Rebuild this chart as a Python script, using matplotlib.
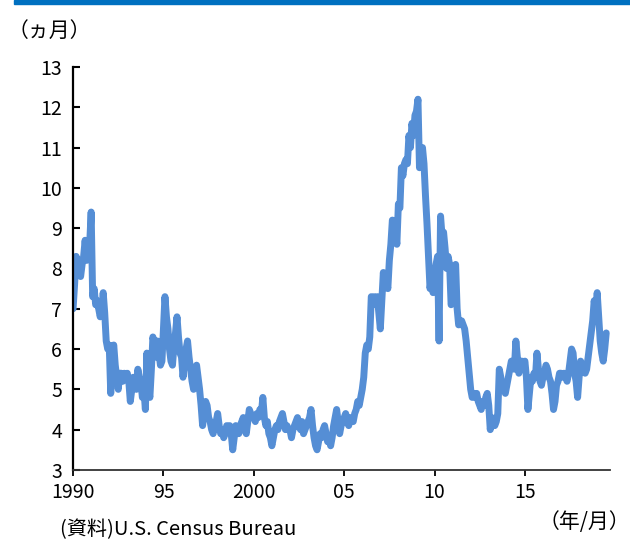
import numpy as np
import matplotlib
matplotlib.use("Agg")
import matplotlib.pyplot as plt
from matplotlib.patches import Rectangle

plt.rcParams['font.family'] = ['Noto Sans CJK JP', 'DejaVu Sans']

# 新築住宅在庫（販売月数）月次, 1990/1 - 2019/7
supply = {
    1990: [7.0, 7.6, 8.3, 8.2, 8.0, 7.8, 8.1, 8.3, 8.7, 8.2, 8.4, 8.6],
    1991: [9.4, 7.3, 7.5, 7.1, 7.2, 7.0, 6.8, 7.0, 7.4, 6.9, 6.2, 6.0],
    1992: [6.1, 4.9, 5.9, 6.1, 5.6, 5.3, 5.0, 5.4, 5.4, 5.2, 5.4, 5.3],
    1993: [5.4, 5.2, 4.7, 5.0, 5.3, 5.2, 5.0, 5.5, 5.3, 5.2, 4.8, 5.0],
    1994: [4.5, 5.9, 5.0, 4.8, 5.5, 6.3, 6.1, 5.8, 6.2, 5.9, 5.6, 5.7],
    1995: [6.5, 7.3, 6.8, 6.5, 6.0, 5.7, 5.6, 6.1, 6.4, 6.8, 6.3, 5.9],
    1996: [5.8, 5.3, 5.7, 6.0, 6.2, 5.8, 5.5, 5.2, 5.0, 5.4, 5.6, 5.3],
    1997: [5.0, 4.6, 4.1, 4.4, 4.7, 4.6, 4.3, 4.2, 4.0, 3.9, 4.1, 4.2],
    1998: [4.4, 4.1, 3.9, 4.0, 3.8, 3.9, 4.1, 4.0, 4.1, 3.9, 3.5, 3.8],
    1999: [4.1, 4.0, 3.9, 4.1, 4.2, 4.3, 4.0, 3.9, 4.2, 4.5, 4.4, 4.3],
    2000: [4.3, 4.2, 4.4, 4.3, 4.5, 4.4, 4.8, 4.3, 4.1, 4.2, 3.9, 3.8],
    2001: [3.6, 3.8, 4.0, 4.1, 4.0, 4.2, 4.3, 4.4, 4.2, 4.0, 4.1, 4.0],
    2002: [4.0, 3.8, 4.0, 4.1, 4.2, 4.3, 4.1, 4.0, 4.2, 3.9, 4.0, 4.1],
    2003: [4.2, 4.3, 4.5, 4.1, 3.8, 3.6, 3.5, 3.7, 3.9, 3.8, 4.0, 4.1],
    2004: [3.9, 3.7, 3.8, 3.6, 3.8, 4.1, 4.3, 4.5, 4.2, 3.9, 4.1, 4.2],
    2005: [4.3, 4.4, 4.2, 4.1, 4.3, 4.2, 4.2, 4.4, 4.5, 4.7, 4.6, 4.8],
    2006: [5.0, 5.3, 5.9, 6.1, 6.0, 6.3, 7.3, 7.2, 7.3, 7.1, 7.3, 6.9],
    2007: [6.5, 7.2, 7.9, 7.6, 7.7, 7.5, 8.2, 8.6, 9.2, 9.0, 8.9, 8.6],
    2008: [9.6, 9.5, 10.5, 10.3, 10.6, 10.7, 10.6, 11.3, 11.0, 11.6, 11.3, 11.8],
    2009: [11.9, 12.2, 10.5, 10.8, 11.0, 10.6, 9.8, 9.1, 8.3, 7.5, 7.8, 7.4],
    2010: [7.8, 8.1, 8.3, 6.2, 9.3, 8.8, 8.9, 8.5, 8.0, 8.3, 8.1, 7.1],
    2011: [7.2, 7.8, 8.1, 7.0, 6.6, 6.7, 6.7, 6.6, 6.5, 6.2, 5.8, 5.4],
    2012: [5.0, 4.8, 4.9, 4.8, 4.9, 4.7, 4.6, 4.5, 4.7, 4.6, 4.8, 4.9],
    2013: [4.6, 4.0, 4.3, 4.2, 4.1, 4.2, 4.4, 5.5, 5.3, 5.0, 5.1, 4.9],
    2014: [5.1, 5.3, 5.5, 5.7, 5.6, 5.5, 6.2, 5.8, 5.4, 5.7, 5.7, 5.6],
    2015: [5.7, 5.3, 4.5, 4.9, 5.3, 5.2, 5.4, 5.3, 5.9, 5.5, 5.2, 5.1],
    2016: [5.3, 5.4, 5.6, 5.5, 5.3, 5.2, 4.9, 4.5, 4.7, 5.1, 5.2, 5.4],
    2017: [5.4, 5.3, 5.4, 5.3, 5.2, 5.4, 5.7, 6.0, 5.9, 5.4, 5.2, 4.8],
    2018: [5.3, 5.7, 5.6, 5.5, 5.4, 5.5, 5.8, 6.1, 6.4, 6.7, 7.2, 6.9],
    2019: [7.4, 6.8, 6.2, 5.9, 5.7, 6.0, 6.4],
}

tick_years = [1990, 1995, 2000, 2005, 2010, 2015]
tick_labels = ['1990', '95', '2000', '05', '10', '15']
y_ticks = list(range(3, 14))

# 月次データを小数年に並べる
t = []
v = []
for yr, vals in supply.items():
    for i, val in enumerate(vals):
        t.append(yr + i / 12.0)
        v.append(val)

fig = plt.figure(figsize=(6.3, 5.49), dpi=100)
ax = fig.add_axes([0.116, 0.144, 0.852, 0.734])

ax.plot(t, v, color='#558ed5', lw=5.0, solid_joinstyle='round', solid_capstyle='round')

ax.set_xlim(1990, 2019.70)
ax.set_ylim(3, 13)
ax.set_xticks(tick_years)
ax.set_xticklabels(tick_labels)
ax.set_yticks(y_ticks)

for s in ['top', 'right']:
    ax.spines[s].set_visible(False)
ax.spines['left'].set_linewidth(1.6)
ax.spines['bottom'].set_linewidth(1.3)
ax.spines['bottom'].set_color('#333333')
ax.tick_params(axis='y', direction='in', length=5, width=1.5, labelsize=14, pad=8)
ax.tick_params(axis='x', direction='out', length=4, width=1.3, labelsize=14, pad=5)

# 上部の青い帯
fig.patches.append(Rectangle((14 / 630, 1 - 4 / 549), 1, 4 / 549, transform=fig.transFigure,
                             color='#0070c0', zorder=5))

fig.text(8 / 630, 1 - 31 / 549, '（ヵ月）', fontsize=15, va='center', ha='left')
fig.text(60 / 630, 1 - 530 / 549, '(資料)U.S. Census Bureau', fontsize=14.5, va='center', ha='left')
fig.text(630 / 630, 1 - 522 / 549, '（年/月）', fontsize=15, va='center', ha='right')

fig.savefig('out.png', dpi=100)
